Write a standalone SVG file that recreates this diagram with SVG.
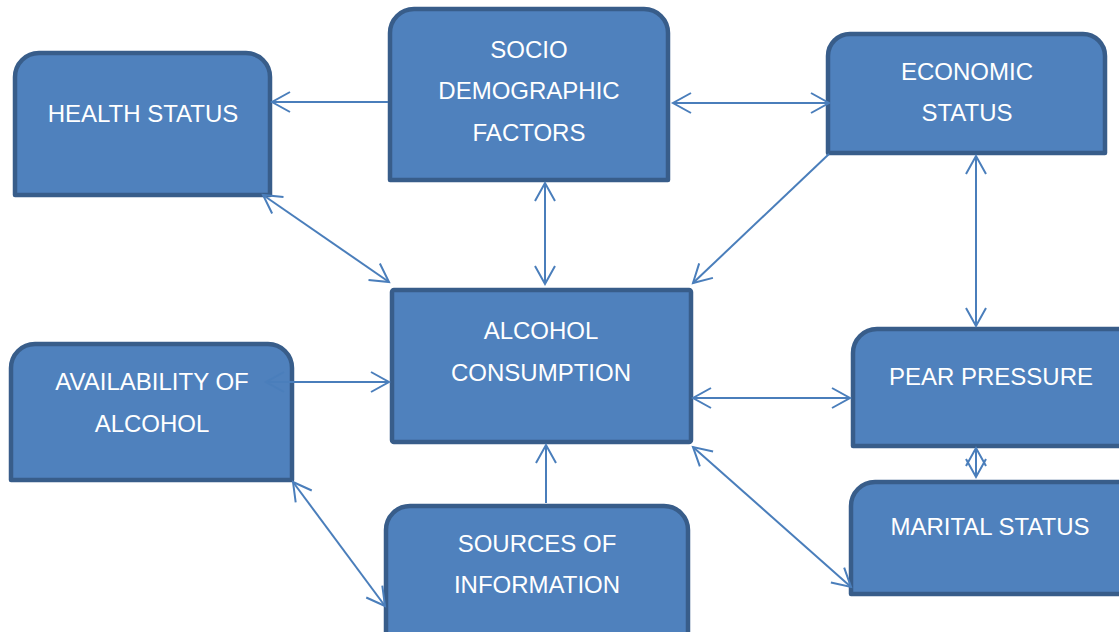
<svg xmlns="http://www.w3.org/2000/svg" width="1119" height="632" viewBox="0 0 1119 632">
<style>
.box{fill:#4F81BD;stroke:#385D8A;stroke-width:4.5;stroke-linejoin:round}
.t{font-family:"Liberation Sans",Arial,sans-serif;font-size:24px;fill:#FFFFFF;text-anchor:middle}
.c{stroke:#4A7EBB;stroke-width:2;fill:none}
</style>
<defs>
<marker id="a" viewBox="0 0 24 24" markerWidth="24" markerHeight="24" refX="20" refY="12" orient="auto-start-reverse" markerUnits="userSpaceOnUse">
<path d="M2 2 L20 12 L2 22" fill="none" stroke="#4A7EBB" stroke-width="2"/>
</marker>
</defs>
<rect width="1119" height="632" fill="#FFFFFF"/>
<g id="health">
<path class="box" d="M15 195 V77 A24 24 0 0 1 39 53 H246 A24 24 0 0 1 270 77 V195 Z"/>
<text class="t" x="143" y="122">HEALTH STATUS</text>
</g>
<g id="socio">
<path class="box" d="M390 180 V33 A24 24 0 0 1 414 9 H644 A24 24 0 0 1 668 33 V180 Z"/>
<text class="t" x="529" y="58">SOCIO</text>
<text class="t" x="529" y="99">DEMOGRAPHIC</text>
<text class="t" x="529" y="141">FACTORS</text>
</g>
<g id="economic">
<path class="box" d="M828 153 V56 A22 22 0 0 1 850 34 H1083 A22 22 0 0 1 1105 56 V153 Z"/>
<text class="t" x="967" y="80">ECONOMIC</text>
<text class="t" x="967" y="121">STATUS</text>
</g>
<g id="availability">
<path class="box" d="M11 480 V368 A24 24 0 0 1 35 344 H268 A24 24 0 0 1 292 368 V480 Z"/>
<text class="t" x="152" y="390">AVAILABILITY OF</text>
<text class="t" x="152" y="432">ALCOHOL</text>
</g>
<g id="alcohol">
<rect class="box" x="392" y="290" width="299" height="152" rx="2"/>
<text class="t" x="541" y="339">ALCOHOL</text>
<text class="t" x="541" y="381">CONSUMPTION</text>
</g>
<g id="pear">
<path class="box" d="M853 446 V353 A24 24 0 0 1 877 329 H1130 V446 Z"/>
<text class="t" x="991" y="385">PEAR PRESSURE</text>
</g>
<g id="marital">
<path class="box" d="M851 594 V506 A24 24 0 0 1 875 482 H1130 V594 Z"/>
<text class="t" x="990" y="535">MARITAL STATUS</text>
</g>
<g id="sources">
<path class="box" d="M386 640 V530 A24 24 0 0 1 410 506 H664 A24 24 0 0 1 688 530 V640 Z"/>
<text class="t" x="537" y="552">SOURCES OF</text>
<text class="t" x="537" y="593">INFORMATION</text>
</g>
<g id="connectors">
<line class="c" x1="388" y1="102" x2="272" y2="102" marker-end="url(#a)"/>
<line class="c" x1="673" y1="103" x2="829" y2="103" marker-start="url(#a)" marker-end="url(#a)"/>
<line class="c" x1="545" y1="183" x2="545" y2="284" marker-start="url(#a)" marker-end="url(#a)"/>
<line class="c" x1="829" y1="154" x2="693" y2="283" marker-end="url(#a)"/>
<line class="c" x1="976" y1="156" x2="976" y2="326" marker-start="url(#a)" marker-end="url(#a)"/>
<line class="c" x1="263" y1="195" x2="389" y2="282" marker-start="url(#a)" marker-end="url(#a)"/>
<line class="c" x1="266" y1="382" x2="389" y2="382" marker-start="url(#a)" marker-end="url(#a)"/>
<line class="c" x1="693" y1="398" x2="850" y2="398" marker-start="url(#a)" marker-end="url(#a)"/>
<line class="c" x1="546" y1="503" x2="546" y2="445" marker-end="url(#a)"/>
<line class="c" x1="693" y1="447" x2="851" y2="587" marker-start="url(#a)" marker-end="url(#a)"/>
<line class="c" x1="293" y1="482" x2="385" y2="606" marker-start="url(#a)" marker-end="url(#a)"/>
<line class="c" x1="976" y1="448" x2="976" y2="477" marker-start="url(#a)" marker-end="url(#a)"/>
</g>
</svg>
